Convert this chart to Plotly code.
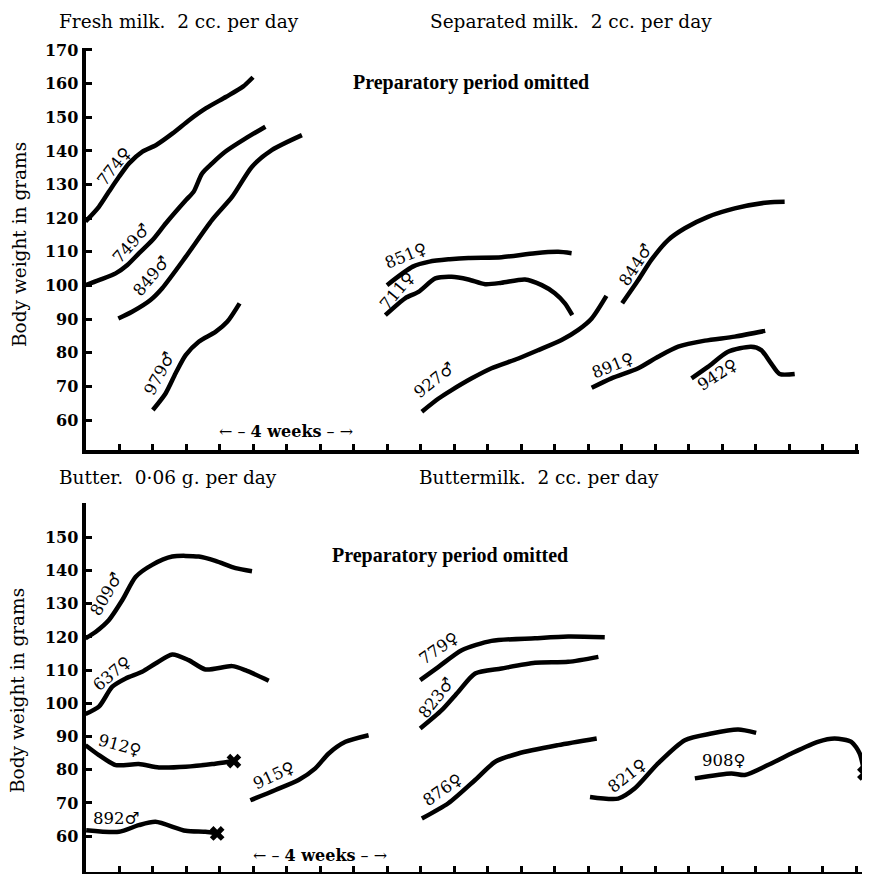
import plotly.graph_objects as go

# ---------------- data (weeks, grams) ----------------
# Top left: Fresh milk
m774_w = [0, 0.4, 0.7, 1.0, 1.3, 1.7, 2.1, 2.6, 3.1, 3.6, 4.2, 4.7, 5.0]
m774_g = [119, 123.4, 127.9, 132.3, 136.3, 139.8, 141.7, 145.2, 149.2, 152.7, 156.1, 159.1, 161.9]
m749_w = [0, 0.4, 0.9, 1.25, 1.6, 2.0, 2.4, 3.0, 3.23, 3.48, 3.78, 4.18, 4.78, 5.37]
m749_g = [100.1, 101.6, 103.6, 106.1, 109.6, 113.5, 118.5, 125.4, 127.9, 133.3, 136.3, 139.8, 143.7, 147.2]
m849_w = [0.98, 1.39, 1.94, 2.29, 2.99, 3.78, 4.38, 4.97, 5.57, 6.46]
m849_g = [90.2, 92.2, 95.7, 99.2, 108.5, 119.5, 126.4, 135.3, 140.3, 144.7]
m979_w = [2.01, 2.39, 2.69, 2.99, 3.38, 3.88, 4.23, 4.60]
m979_g = [63.0, 67.9, 73.9, 79.3, 83.3, 86.2, 89.2, 94.7]

# Top right: Separated milk
s851_w = [9.0, 9.77, 10.27, 10.87, 11.43, 12.42, 13.42, 14.11, 14.51]
s851_g = [100.1, 105.6, 107.1, 107.8, 108.2, 108.4, 109.6, 110.0, 109.6]
s711_w = [8.95, 9.54, 9.94, 10.44, 10.93, 11.43, 11.93, 12.42, 13.12, 13.62, 14.01, 14.31, 14.53]
s711_g = [91.2, 96.2, 98.1, 102.1, 102.6, 101.8, 100.4, 100.8, 101.8, 100.1, 97.7, 94.7, 91.2]
s927_w = [10.04, 10.54, 10.93, 11.53, 12.12, 12.92, 13.52, 14.21, 14.71, 15.11, 15.55]
s927_g = [62.5, 66.4, 68.9, 72.4, 75.4, 78.3, 80.8, 83.8, 86.8, 90.2, 96.9]
s844_w = [16.02, 16.5, 16.89, 17.39, 17.89, 18.58, 19.38, 20.37, 20.87]
s844_g = [94.7, 101.6, 107.6, 113.5, 117.0, 120.4, 122.9, 124.7, 124.9]
s891_w = [15.11, 15.70, 16.5, 17.09, 17.69, 18.49, 19.38, 20.29]
s891_g = [69.6, 72.4, 75.4, 78.8, 81.8, 83.6, 84.8, 86.5]
s942_w = [18.09, 18.58, 19.18, 19.87, 20.17, 20.47, 20.72, 21.17]
s942_g = [72.4, 75.8, 80.3, 81.8, 80.8, 76.8, 73.7, 73.7]

# Bottom left: Butter
b809_w = [0, 0.30, 0.70, 1.10, 1.50, 1.99, 2.59, 3.38, 3.88, 4.48, 4.97]
b809_g = [119.6, 121.5, 125.1, 131.1, 138.1, 141.7, 144.2, 144.2, 142.9, 140.7, 139.8]
b637_w = [0, 0.40, 0.80, 1.20, 1.69, 2.09, 2.59, 3.08, 3.58, 4.38, 4.77, 5.47]
b637_g = [96.8, 99.0, 105.0, 107.5, 109.5, 112.0, 114.7, 113.0, 110.2, 111.2, 110.0, 106.8]
b912_w = [0, 0.40, 0.90, 1.59, 2.19, 2.99, 3.78, 4.28, 4.43]
b912_g = [87.4, 84.4, 81.4, 81.7, 80.7, 80.9, 81.7, 82.4, 82.6]
b892_w = [0.02, 1.0, 1.59, 2.09, 2.99, 3.58, 3.93]
b892_g = [61.8, 61.3, 63.3, 64.3, 61.6, 61.3, 60.8]
b915_w = [4.92, 5.67, 6.36, 6.86, 7.26, 7.76, 8.45]
b915_g = [70.8, 73.9, 76.9, 80.4, 84.9, 88.4, 90.4]

# Bottom right: Buttermilk
b779_w = [9.99, 10.54, 11.23, 12.12, 13.42, 14.41, 15.50]
b779_g = [107.0, 111.0, 116.0, 118.8, 119.6, 120.1, 119.9]
b823_w = [9.99, 10.64, 11.13, 11.63, 12.42, 13.42, 14.41, 15.31]
b823_g = [92.4, 98.0, 103.5, 109.0, 110.5, 112.2, 112.5, 114.0]
b876_w = [10.04, 10.83, 11.63, 12.23, 12.92, 14.11, 15.26]
b876_g = [65.3, 69.9, 76.9, 82.4, 84.9, 87.4, 89.4]
b821_w = [15.06, 15.90, 16.40, 17.09, 17.89, 18.68, 19.48, 20.02]
b821_g = [71.8, 71.3, 74.4, 81.9, 88.9, 90.9, 92.1, 91.1]
b908_w = [18.19, 19.28, 19.68, 20.37, 21.07, 21.86, 22.36, 22.86, 23.11, 23.25]
b908_g = [77.4, 78.9, 78.4, 81.4, 84.9, 88.4, 89.4, 88.4, 84.9, 78.9]

top_yticks = [60, 70, 80, 90, 100, 110, 120, 130, 140, 150, 160, 170]
bot_yticks = [60, 70, 80, 90, 100, 110, 120, 130, 140, 150, 160]
bot_yticklabels = ["60", "70", "80", "90", "100", "110", "120", "130", "140", "150", ""]
week_ticks = list(range(1, 24))

F = "\u2640"  # female
M = "\u2642"  # male

top_curves = [(m774_w, m774_g), (m749_w, m749_g), (m849_w, m849_g), (m979_w, m979_g),
              (s851_w, s851_g), (s711_w, s711_g), (s927_w, s927_g), (s844_w, s844_g),
              (s891_w, s891_g), (s942_w, s942_g)]
bot_curves = [(b809_w, b809_g), (b637_w, b637_g), (b912_w, b912_g), (b892_w, b892_g),
              (b915_w, b915_g), (b779_w, b779_g), (b823_w, b823_g), (b876_w, b876_g),
              (b821_w, b821_g), (b908_w, b908_g)]

# labels: text, week, grams, angle
top_labels = [("774" + F, 0.85, 135.5, -52), ("749" + M, 1.36, 112.6, -48),
              ("849" + M, 1.95, 102.8, -50), ("979" + M, 2.22, 73.7, -62),
              ("851" + F, 9.58, 109.0, -22), ("711" + F, 9.31, 98.6, -50),
              ("927" + M, 10.39, 71.9, -38), ("844" + M, 16.44, 106.1, -57),
              ("891" + F, 15.75, 76.3, -22), ("942" + F, 18.88, 73.4, -33)]
bot_labels = [("809" + M, 0.61, 132.9, -60), ("637" + F, 0.79, 109.1, -40),
              ("912" + F, 1.03, 87.4, 15), ("892" + M, 0.91, 65.4, 0),
              ("915" + F, 5.62, 78.4, -25), ("779" + F, 10.54, 116.6, -35),
              ("823" + M, 10.45, 101.6, -52), ("876" + F, 10.68, 73.9, -35),
              ("821" + F, 16.17, 78.4, -38), ("908" + F, 19.06, 82.9, 0)]

FONT = "DejaVu Serif"
OFF = 8            # page body margin in the browser
FW, FH = 862, 866  # figure size so that page = 870 x 874


def px(sx):
    return (sx - OFF) / FW


def py(sy):
    return (FH - (sy - OFF)) / FH


fig = go.Figure()
line_style = dict(color="black", width=4.5, shape="spline", smoothing=0.7)
for w, g in top_curves:
    fig.add_trace(go.Scatter(x=w, y=g, mode="lines", line=line_style, xaxis="x", yaxis="y",
                             showlegend=False, hoverinfo="skip"))
for w, g in bot_curves:
    fig.add_trace(go.Scatter(x=w, y=g, mode="lines", line=line_style, xaxis="x2", yaxis="y2",
                             showlegend=False, hoverinfo="skip"))
ends_w = [b912_w[-1], b892_w[-1], b908_w[-1]]
ends_g = [b912_g[-1], b892_g[-1], b908_g[-1]]
fig.add_trace(go.Scatter(x=ends_w, y=ends_g, mode="markers", xaxis="x2", yaxis="y2",
                         marker=dict(symbol="x", size=13, color="black"),
                         cliponaxis=False, showlegend=False, hoverinfo="skip"))

ann = []
for t, x, y, a in top_labels:
    ann.append(dict(text=t, x=x, y=y, xref="x", yref="y", textangle=a, showarrow=False,
                    xanchor="center", yanchor="middle",
                    font=dict(family=FONT, size=16.5, color="black")))
for t, x, y, a in bot_labels:
    ann.append(dict(text=t, x=x, y=y, xref="x2", yref="y2", textangle=a, showarrow=False,
                    xanchor="center", yanchor="middle",
                    font=dict(family=FONT, size=16.5, color="black")))

titles = [("Fresh milk.  2 cc. per day", 57, 22), ("Separated milk.  2 cc. per day", 428, 22),
          ("Butter.  0\u00b706 g. per day", 57, 477), ("Buttermilk.  2 cc. per day", 417, 477)]
for t, x, y in titles:
    ann.append(dict(text=t, x=px(x), y=py(y), xref="paper", yref="paper", xanchor="left",
                    yanchor="middle", showarrow=False,
                    font=dict(family=FONT, size=18.5, color="black")))

for x, y in [(471, 83), (450, 555)]:
    ann.append(dict(text="<b>Preparatory period omitted</b>", x=px(x), y=py(y), xref="paper",
                    yref="paper", xanchor="center", yanchor="middle", showarrow=False,
                    font=dict(family="Liberation Serif", size=20, color="black")))
for x, y in [(286, 431), (320, 855)]:
    ann.append(dict(text="\u2190 \u2013 <b>4 weeks</b> \u2013 \u2192", x=px(x), y=py(y),
                    xref="paper", yref="paper", xanchor="center", yanchor="middle",
                    showarrow=False, font=dict(family=FONT, size=16, color="black")))
for x, y in [(20, 245), (17, 691)]:
    ann.append(dict(text="Body weight in grams", x=px(x), y=py(y), xref="paper",
                    yref="paper", textangle=-90, xanchor="center", yanchor="middle",
                    showarrow=False, font=dict(family=FONT, size=18.5, color="black")))

x0 = 85.5
scale = 33.5
axis_common = dict(showgrid=False, zeroline=False, showline=True, linecolor="black",
                   linewidth=4, ticks="inside", tickcolor="black", tickwidth=3, ticklen=6)

fig.update_layout(
    width=FW, height=FH, margin=dict(l=0, r=0, t=0, b=0, autoexpand=False),
    paper_bgcolor="white", plot_bgcolor="white",
    xaxis=dict(domain=[px(x0), px(x0 + 23.1 * scale)], range=[0, 23.1], anchor="y",
               tickvals=week_ticks, showticklabels=False, **axis_common),
    yaxis=dict(domain=[py(450), py(48.3)], range=[51.1, 170.5], anchor="x",
               tickvals=top_yticks,
               tickfont=dict(family=FONT, size=16, color="black", weight="bold"),
               **axis_common),
    xaxis2=dict(domain=[px(x0), min(1.0, px(x0 + 23.35 * scale))], range=[0, 23.35],
                anchor="y2", tickvals=week_ticks, showticklabels=False, **axis_common),
    yaxis2=dict(domain=[max(0.0, py(872)), py(503.1)], range=[49.2, 160.3], anchor="x2",
                tickvals=bot_yticks, ticktext=bot_yticklabels,
                tickfont=dict(family=FONT, size=16, color="black", weight="bold"),
                **axis_common),
    annotations=ann,
)

fig.write_html("out.html")
